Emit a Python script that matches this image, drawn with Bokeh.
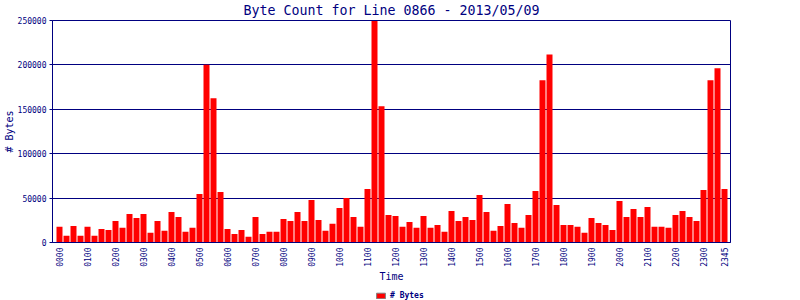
import math
from bokeh.plotting import figure
from bokeh.layouts import column
from bokeh.models import Range1d, FixedTicker, ColumnDataSource, Title, Legend, LegendItem
from bokeh.embed import file_html
from bokeh.resources import INLINE

# 15-minute slots, 96 bars
times = ["%02d%02d" % (h, m) for h in range(24) for m in (0, 15, 30, 45)]
byte_counts = [
    17600, 7500, 18700, 7500, 17600, 7500, 15300, 14200,
    24300, 16500, 32200, 27700, 32200, 10900, 24300, 13100,
    34400, 28800, 12000, 16500, 54600, 200200, 162400, 56900,
    15300, 9700, 14200, 6400, 28800, 9700, 12000, 12000,
    26600, 24300, 34400, 24300, 47900, 25400, 13100, 21000,
    38900, 50200, 28800, 17600, 60300, 249500, 153400, 31100,
    29900, 17600, 23200, 16500, 29900, 16500, 19800, 12000,
    35600, 24300, 28800, 25400, 53500, 34400, 13100, 18700,
    43400, 22100, 16500, 31100, 58000, 182600, 211800, 42300,
    19800, 19800, 17600, 10900, 27700, 22100, 19800, 14200,
    46800, 28800, 37800, 28800, 40000, 17600, 17600, 16500,
    31100, 35600, 28800, 24300, 59100, 182600, 196100, 60300,
]
tick_positions = list(range(0, 96, 4)) + [95]
tick_labels = [times[i] for i in tick_positions]
y_ticks = [0, 50000, 100000, 150000, 200000, 250000]

title_text = "Byte Count for Line 0866 - 2013/05/09"
x_title = "Time"
y_title = "# Bytes"
series_name = "# Bytes"

NAVY = "#000080"
MONO = "DejaVu Sans Mono"

src = ColumnDataSource(dict(x=list(range(len(byte_counts))), top=byte_counts))

p = figure(width=800, height=284, output_backend="svg", toolbar_location=None,
           x_range=Range1d(-1, 95.857), y_range=Range1d(0, 250000),
           min_border_left=52, min_border_right=70, min_border_top=20, min_border_bottom=42)
p.background_fill_color = "white"
p.border_fill_color = "white"
p.outline_line_color = NAVY
p.outline_line_width = 1

p.vbar(x="x", top="top", width=0.857, bottom=0, source=src, fill_color="#FF0000", line_color=None)

# title
t = Title(text=title_text, align="center", vertical_align="top", text_color=NAVY,
          text_font=MONO, text_font_size="13.3px", text_font_style="normal",
          standoff=2, offset=0)
p.add_layout(t, "above")

# axes
xa = p.xaxis[0]
xa.ticker = FixedTicker(ticks=tick_positions)
xa.major_label_overrides = {pos: lab for pos, lab in zip(tick_positions, tick_labels)}
xa.major_label_orientation = math.pi / 2
xa.major_tick_line_color = None
xa.minor_tick_line_color = None
xa.major_tick_out = 0
xa.major_tick_in = 0
xa.major_label_standoff = 5
xa.axis_line_color = NAVY
xa.major_label_text_color = NAVY
xa.major_label_text_font = MONO
xa.major_label_text_font_size = "8px"
xa.major_label_text_font_style = "normal"
xa.axis_label = x_title
xa.axis_label_text_color = NAVY
xa.axis_label_text_font = MONO
xa.axis_label_text_font_size = "10px"
xa.axis_label_text_font_style = "normal"
xa.axis_label_standoff = 1

ya = p.yaxis[0]
ya.ticker = FixedTicker(ticks=y_ticks)
ya.major_label_overrides = {v: str(v) for v in y_ticks}
ya.major_tick_out = 3
ya.major_tick_in = 0
ya.minor_tick_line_color = None
ya.major_tick_line_color = NAVY
ya.major_label_standoff = 3
ya.axis_line_color = NAVY
ya.major_label_text_color = NAVY
ya.major_label_text_font = MONO
ya.major_label_text_font_size = "8px"
ya.major_label_text_font_style = "normal"
ya.axis_label = y_title
ya.axis_label_text_color = NAVY
ya.axis_label_text_font = MONO
ya.axis_label_text_font_size = "10px"
ya.axis_label_text_font_style = "normal"
ya.axis_label_standoff = 0

p.xgrid.grid_line_color = None
p.ygrid.grid_line_color = NAVY
p.ygrid.grid_line_width = 1
p.ygrid.ticker = FixedTicker(ticks=y_ticks)

# legend strip below the chart (its frame is aligned with the chart frame)
lf = figure(width=800, height=16, output_backend="svg", toolbar_location=None,
            x_range=Range1d(0, 1), y_range=Range1d(0, 1),
            x_axis_type=None, y_axis_type=None, min_border=0)
lf.outline_line_color = None
lf.background_fill_color = "white"
lf.border_fill_color = "white"
lf.xgrid.grid_line_color = None
lf.ygrid.grid_line_color = None
# swatch renderer: its single bar sits outside the visible range, only the legend shows it
swatch = lf.vbar(x=[-10], top=[0], bottom=[0], width=0.5, fill_color="#FF0000", line_color="#808080")
legend = Legend(items=[LegendItem(label=series_name, renderers=[swatch])],
                orientation="horizontal", location=(323, 0),
                glyph_width=11, glyph_height=7, label_standoff=4,
                label_text_color=NAVY, label_text_font=MONO,
                label_text_font_size="8px", label_text_font_style="bold",
                padding=0, margin=0, spacing=0,
                border_line_color=None, background_fill_alpha=0)
lf.add_layout(legend, "center")

layout = column(p, lf, spacing=0)
open("out.html", "w").write(file_html(layout, INLINE))
